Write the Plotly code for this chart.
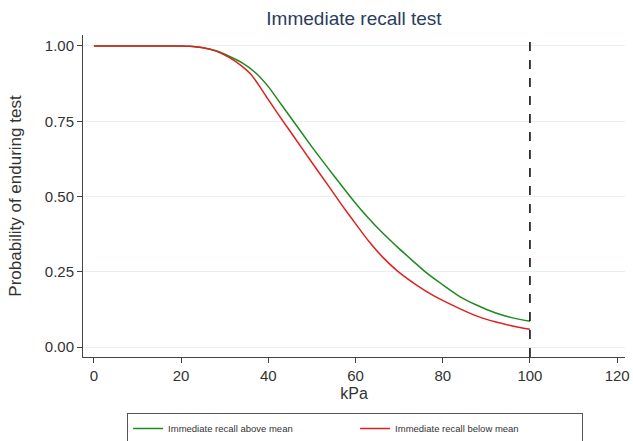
import plotly.graph_objects as go

# Kaplan-Meier style survival estimates, read at selected pressures (kPa)
kpa_above = [0, 20, 22, 25, 28, 31, 34, 37, 40, 42, 45, 50, 55, 60, 63, 66, 70, 73,
             76, 80, 84, 88, 92, 96, 100]
surv_above = [1.0, 1.0, 0.999, 0.994, 0.984, 0.966, 0.944, 0.912, 0.865, 0.825, 0.765,
              0.665, 0.570, 0.478, 0.428, 0.382, 0.327, 0.288, 0.250, 0.207, 0.167,
              0.138, 0.114, 0.097, 0.086]

kpa_below = [0, 20, 22, 25, 28, 31, 34, 36, 38, 40, 43, 46, 50, 54, 57, 60, 63, 66,
             69.5, 74, 78, 84, 88, 92, 96, 100]
surv_below = [1.0, 1.0, 0.999, 0.994, 0.983, 0.962, 0.932, 0.906, 0.866, 0.822, 0.758,
              0.696, 0.613, 0.531, 0.469, 0.410, 0.352, 0.302, 0.254, 0.206, 0.170,
              0.127, 0.102, 0.084, 0.070, 0.059]

series_names = ["Immediate recall above mean", "Immediate recall below mean"]
series_colors = ["#1f8a1f", "#e02020"]

x_ticks = [0, 20, 40, 60, 80, 100, 120]
y_ticks = [0.0, 0.25, 0.5, 0.75, 1.0]
y_ticklabels = ["0.00", "0.25", "0.50", "0.75", "1.00"]
cutoff_kpa = 100

FONT = "Arial, Liberation Sans, Helvetica, sans-serif"

fig = go.Figure()
for xs, ys, name, color in [(kpa_above, surv_above, series_names[0], series_colors[0]),
                            (kpa_below, surv_below, series_names[1], series_colors[1])]:
    fig.add_trace(go.Scatter(x=xs, y=ys, mode="lines", name=name,
                             line=dict(color=color, width=1.5, shape="spline",
                                       smoothing=0.6)))

fig.add_shape(type="line", xref="x", yref="paper", x0=cutoff_kpa, x1=cutoff_kpa,
              y0=0, y1=1, line=dict(color="black", width=1.5, dash="dash"))

axis_common = dict(
    showline=True, linecolor="#444444", linewidth=1,
    ticks="outside", ticklen=5, tickcolor="#444444", tickwidth=1,
    tickfont=dict(family=FONT, size=15, color="#333333"),
    zeroline=False, automargin=False,
)

fig.update_layout(
    width=633, height=441,
    margin=dict(l=83, r=8, t=35, b=84),
    paper_bgcolor="white", plot_bgcolor="white",
    title=dict(text="Immediate recall test", x=0.5, xref="paper", xanchor="center",
               y=0.958, yanchor="middle",
               font=dict(family=FONT, size=19, color="#2c3d5e")),
    xaxis=dict(range=[-2.5, 121.8], tickvals=x_ticks, showgrid=False,
               title=dict(text="kPa", font=dict(family=FONT, size=16, color="#333333"),
                          standoff=4),
               **axis_common),
    yaxis=dict(range=[-0.033, 1.0365], tickvals=y_ticks, ticktext=y_ticklabels,
               showgrid=True, gridcolor="#e6eff1", gridwidth=1,
               title=dict(text="Probability of enduring test",
                          font=dict(family=FONT, size=17, color="#333333"),
                          standoff=18),
               **axis_common),
    showlegend=True,
    legend=dict(orientation="h", x=0.502, xanchor="center",
                yref="container", y=1 - 413 / 441, yanchor="top",
                bordercolor="#555555", borderwidth=1, bgcolor="white",
                entrywidth=182, entrywidthmode="pixels",
                font=dict(family=FONT, size=9.5, color="#333333")),
)

fig.write_html("out.html")
